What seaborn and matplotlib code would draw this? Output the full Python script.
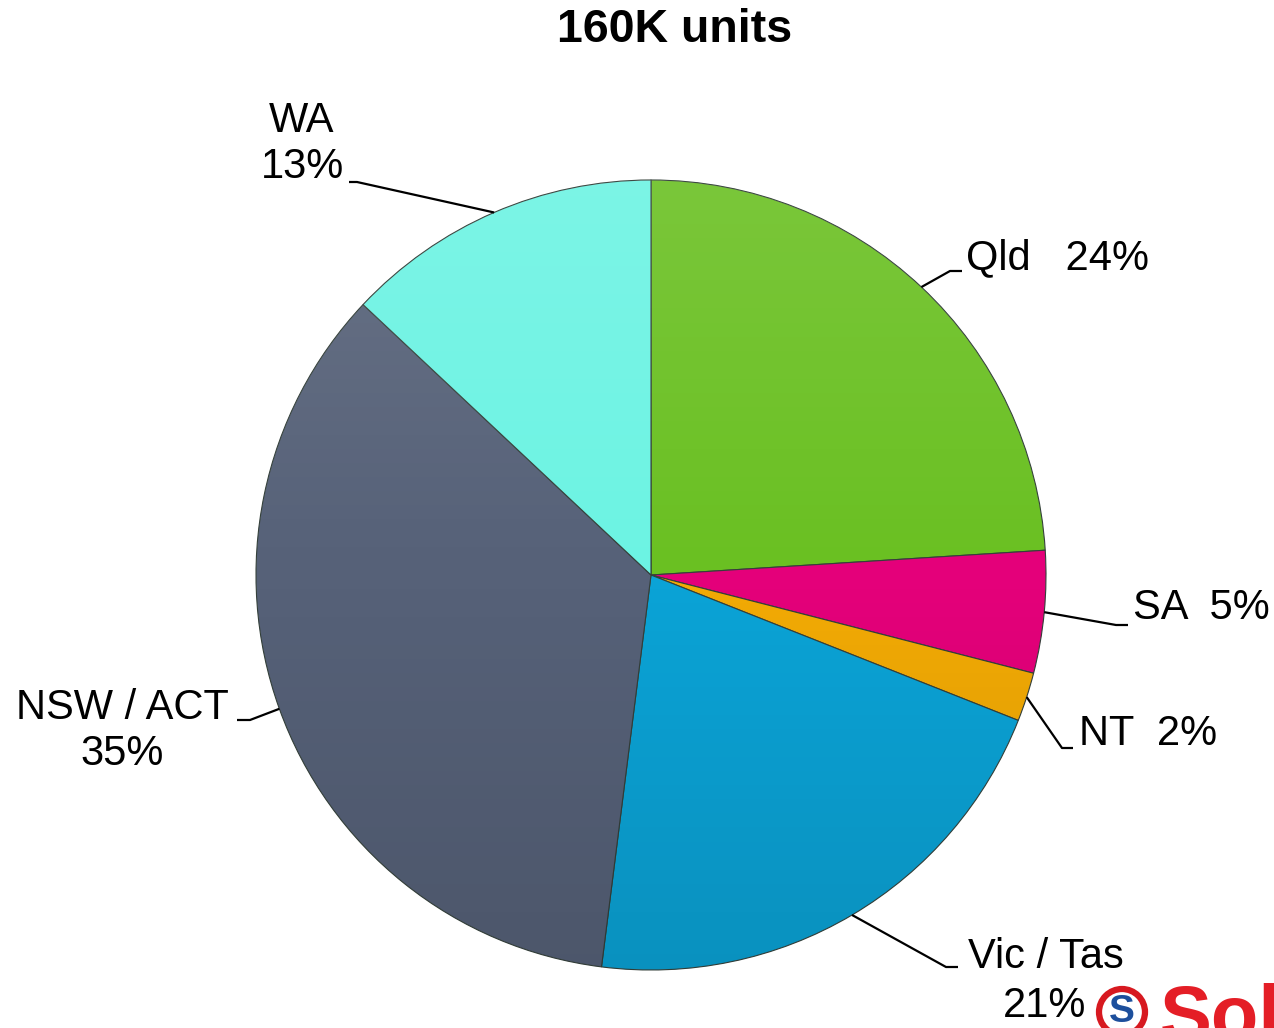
"""
Pie chart: 160K units by state
"""
import numpy as np
import matplotlib
matplotlib.use('Agg')
import matplotlib.pyplot as plt
import seaborn as sns
from matplotlib.patches import Circle

# data
regions = ['Qld', 'SA', 'NT', 'Vic / Tas', 'NSW / ACT', 'WA']
shares = [24, 5, 2, 21, 35, 13]
slice_colors = ['#6ac022', '#e4007a', '#f2aa05', '#0ba3d6', '#566178', '#6cf3e3']
label_texts = ['Qld   24%', 'SA  5%', 'NT  2%', 'Vic / Tas', 'NSW / ACT\n35%', 'WA\n13%']
title = '160K units'

W, H = 1274, 1028

sns.set_theme(style='white')
plt.rcParams['font.family'] = ['Liberation Sans', 'DejaVu Sans']

fig = plt.figure(figsize=(W / 100, H / 100), dpi=100)
ax = fig.add_axes([0, 0, 1, 1])


def px(x, y):
    # image pixel coords (y down) -> data coords (y up)
    return x, H - y


cx, cy = px(651, 575)
radius = 395
wedges, _ = ax.pie(shares, colors=sns.color_palette(slice_colors),
                   startangle=90, counterclock=False,
                   center=(cx, cy), radius=radius,
                   wedgeprops=dict(edgecolor='#34403a', linewidth=0.8))

# soft top-to-bottom shading over the pie
grad = np.zeros((256, 2, 4))
t = np.linspace(0, 1, 256)[:, None]
grad[..., :3] = np.where(t < 0.5, 1.0, 0.0)[..., None]
grad[..., 3] = np.abs(t - 0.5) * 0.22
img = ax.imshow(grad, extent=(cx - radius, cx + radius, cy - radius, cy + radius),
                origin='upper', aspect='auto', zorder=3, interpolation='bilinear')
clip = Circle((cx, cy), radius, transform=ax.transData)
img.set_clip_path(clip)

ax.set_xlim(0, W)
ax.set_ylim(0, H)
ax.set_aspect('equal')
ax.axis('off')

# leader lines: (elbow, end) in image px, then label position/alignment
leaders = {
    'Qld':       ((950, 271), (962, 271), (966, 258), 'left'),
    'SA':        ((1116, 625), (1128, 625), (1133, 608), 'left'),
    'NT':        ((1062, 748), (1073, 748), (1079, 734), 'left'),
    'Vic / Tas': ((946, 967), (958, 967), (1046, 957), 'center'),
    'NSW / ACT': ((250, 720), (237, 720), (122, 731), 'center'),
    'WA':        ((357, 182), (349, 182), (302, 144), 'center'),
}

for w, name, txt in zip(wedges, regions, label_texts):
    mid = np.deg2rad((w.theta1 + w.theta2) / 2)
    sx = cx + radius * np.cos(mid)
    sy = cy + radius * np.sin(mid)
    elbow, end, tpos, ha = leaders[name]
    ex, ey = px(*elbow)
    nx, ny = px(*end)
    ax.plot([sx, ex, nx], [sy, ey, ny], color='black', lw=1.6,
            solid_capstyle='butt', zorder=5)
    tx, ty = px(*tpos)
    ax.text(tx, ty, txt, ha=ha, va='center', multialignment='center',
            fontsize=30, color='black', linespacing=1.2)

# second line of the Vic / Tas label
ax.text(*px(1045, 1006), f'{shares[3]}%', ha='center', va='center',
        fontsize=30, color='black')

ax.text(675, H - 30, title, ha='center', va='center', fontsize=33.5,
        fontweight='bold', color='black')

# partial logo in the corner
lx, ly = px(1122, 1012)
ax.add_patch(Circle((lx, ly), 23, facecolor='white', edgecolor='#d71920',
                    linewidth=4.5, zorder=6))
ax.text(lx, ly, 'S', ha='center', va='center', fontsize=28,
        fontweight='bold', color='#1d4f9c', zorder=7)
ax.text(1160, H - 983, 'Sol', ha='left', va='top', fontsize=56,
        fontweight='bold', color='#e41e26', zorder=7)

fig.savefig('out.png', dpi=100)
plt.close(fig)
